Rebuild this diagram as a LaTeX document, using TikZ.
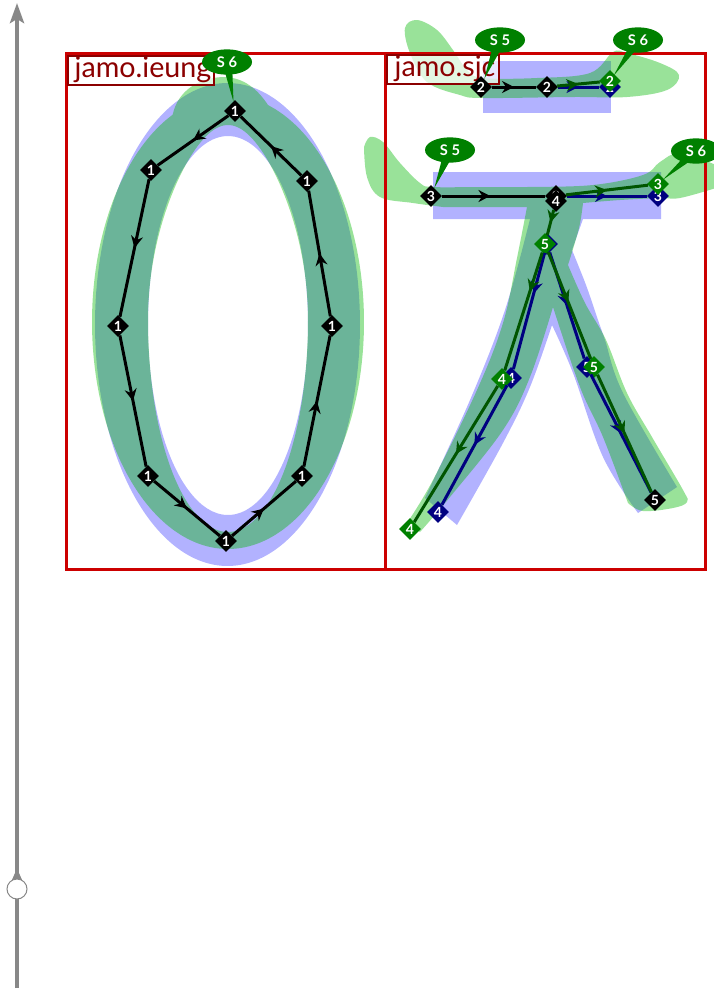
\documentclass[tikz,border=0pt]{standalone}
\usepackage{fontspec}
\setmainfont{Lato}
\usetikzlibrary{shapes.geometric,arrows.meta,decorations.markings,calc}
\definecolor{bluefillc}{RGB}{0,0,255}
\definecolor{greenfillc}{RGB}{0,182,0}
\definecolor{framered}{RGB}{204,0,0}
\definecolor{labelred}{RGB}{139,0,0}
\definecolor{nodegreen}{RGB}{0,128,0}
\definecolor{linegreen}{RGB}{0,85,0}
\definecolor{nodenavy}{RGB}{0,0,128}
\definecolor{slidergray}{RGB}{136,136,136}
\tikzset{
  x=0.75pt,y=-0.75pt,
  bluefill/.style={fill=bluefillc,fill opacity=0.3},
  greenfill/.style={fill=greenfillc,fill opacity=0.4},
  frame/.style={draw=framered,line width=2.25pt},
  labelbox/.style={draw=labelred,line width=1.5pt,fill=white,fill opacity=0.72,text opacity=1,text=labelred,
    font=\fontsize{21.5pt}{22pt}\selectfont,anchor=north west,inner sep=0pt,text height=16pt,text depth=5.5pt,align=left},
  pt/.style={diamond,minimum size=16.5pt,inner sep=0pt,text=white,font=\fontsize{10.5pt}{10.5pt}\selectfont\bfseries},
  ptblack/.style={pt,fill=black},
  ptnavy/.style={pt,fill=nodenavy},
  ptgreen/.style={pt,fill=nodegreen},
  seg/.style={line width=2.25pt,postaction={decorate},
    decoration={markings,mark=at position #1 with {\arrow{Stealth[length=9pt,width=9pt,inset=3pt]}}}},
  seg/.default=0.5,
  blackseg/.style={seg=#1,draw=black,color=black},
  blackseg/.default=0.5,
  navyseg/.style={seg=#1,draw=nodenavy,color=nodenavy},
  navyseg/.default=0.5,
  greenseg/.style={seg=#1,draw=linegreen,color=linegreen},
  greenseg/.default=0.5,
  callout/.style={ellipse,fill=nodegreen,text=white,minimum width=37.5pt,minimum height=19pt,inner sep=0pt,
    font=\fontsize{11pt}{11pt}\selectfont\bfseries},
  calloutfill/.style={fill=nodegreen},
  sliderline/.style={draw=slidergray,line width=3pt},
  sliderknob/.style={circle,draw=slidergray,fill=white,line width=0.75pt,minimum size=15pt,inner sep=0pt},
}
% #1 callout centre, #2 diamond, #3 half of the base of the tail, #4 tip's distance from the diamond's centre
\newcommand{\calloutTail}[4]{\fill[calloutfill] ($(#1)+(#3)$) -- ($(#2.center)!#4!(#1)$) -- ($(#1)-(#3)$) -- cycle;}
\begin{document}
\begin{tikzpicture}
\path[use as bounding box] (0,0) rectangle (714,990);

% ---- slider
\coordinate (sbot) at (17,988);
\coordinate (stop) at (17,3);
\draw[sliderline,-{Stealth[length=15pt,width=10.5pt,inset=3pt]}] (sbot) -- (stop);
\fill[slidergray] (15,873) -- (19,873) -- (23,882) -- (11,882) -- cycle;
\node[sliderknob] (knob) at (17,889) {};

% ---- ieung, blue
\fill[bluefill,even odd rule]
  plot[domain=0:360,samples=90,smooth] ({227.5+132.5*cos(\x)},{324.5+241.5*sin(\x)})
  plot[domain=0:360,samples=90,smooth] ({228+80*cos(\x)},{325.5+189.5*sin(\x)});
% ---- sjc, blue
\fill[bluefill] (483,61) rectangle (611,113);
\fill[bluefill] (433,172) -- (661,172) -- (661,219) -- (583,219) -- (572,250)
  -- plot[smooth,tension=0.6] coordinates {(572,250)(586,285)(598,320)(605,340)(623,393)(677,487)}
  -- (638,513)
  -- plot[smooth,tension=0.6] coordinates {(638,513)(603,457)(573,373)(552,325)}
  -- plot[smooth,tension=0.6] coordinates {(552,325)(530,387)(503,443)(457,525)}
  -- (425,498)
  -- plot[smooth,tension=0.6] coordinates {(425,498)(470,400)(505,310)(530,219)}
  -- (433,219) -- cycle;

% ---- ieung, green
\fill[greenfill,even odd rule]
  plot[domain=-72.9:246,samples=90,smooth] ({228+136*cos(\x)},{322+227*sin(\x)})
  .. controls (178,90) and (200,77) .. (225,77) .. controls (245,78) and (258,90) .. (268,105) -- cycle
  plot[domain=0:180,samples=45,smooth] ({228+80*cos(\x)},{320+212*sin(\x)})
  -- plot[domain=180:360,samples=45,smooth] ({228+80*cos(\x)*(1-0.2*sin(\x)*sin(\x))},{320+195*sin(\x)}) -- cycle;
% ---- sjc, green
\fill[greenfill] plot[smooth cycle,tension=0.6] coordinates {(405,28)(417,20)(437,30)(453,50)(467,70)(483,78)(537,78)(590,73)(613,52)(627,53)(660,63)(679,75)(667,90)(627,97)(573,97)(483,98)(460,95)(427,82)(410,53)};
\fill[greenfill]
  plot[smooth,tension=0.6] coordinates {(364,147)(370,137)(383,142)(400,163)(420,183)(433,187)(480,187)(527,187)(593,185)(643,175)(660,162)(680,153)(716,165)}
  -- (716,188)
  -- plot[smooth,tension=0.6] coordinates {(716,188)(680,198)(660,198)(620,200)(583,203)}
  -- plot[smooth,tension=0.6] coordinates {(583,203)(579,228)(568,265)}
  -- plot[smooth,tension=0.6] coordinates {(568,265)(585,303)(606,340)(627,393)(652,437)(683,490)(687,502)(673,508)(643,511)(628,503)}
  -- plot[smooth,tension=0.6] coordinates {(628,503)(603,437)(580,387)(553,307)}
  -- plot[smooth,tension=0.6] coordinates {(553,307)(530,377)(503,430)(450,497)(420,532)}
  -- (407,523)
  -- plot[smooth,tension=0.6] coordinates {(407,523)(433,480)(477,390)(503,323)(517,258)(527,207)}
  -- (443,207)
  -- plot[smooth,tension=0.6] coordinates {(443,207)(413,203)(380,197)(367,177)(364,147)}
  -- cycle;

% ---- frames and labels
\draw[frame] (66,53) rectangle (385,569);
\draw[frame] (385,53) rectangle (705,569);
\node[labelbox,minimum width=109.5pt] (lieung) at (67,55) {\hspace{3pt}jamo.ieung};
\node[labelbox,minimum width=84pt] (lsjc) at (386,54) {\hspace{3pt}jamo.sjc};

% ---- navy
\node[ptnavy] (b2) at (610,87) {2};
\node[ptnavy] (b3) at (658,196) {3};
\node[ptnavy] (b5a) at (547,244) {5};
\node[ptnavy] (b4a) at (511,378) {4};
\node[ptnavy] (b4b) at (438,512) {4};
\node[ptnavy] (b5b) at (587,367) {5};

% ---- green
\node[ptgreen] (g2) at (610,81) {2};
\node[ptgreen] (g3) at (658,184) {3};
\node[ptgreen] (g5a) at (545,244) {5};
\node[ptgreen] (g4a) at (502,379) {4};
\node[ptgreen] (g4b) at (410,529) {4};
\node[ptgreen] (g5b) at (594,367) {5};

% ---- black
\node[ptblack] (k2a) at (481,87) {2};
\node[ptblack] (k2b) at (547,87) {2};
\node[ptblack] (k3) at (431,196) {3};
\node[ptblack] (k3b) at (556,196) {3};
\node[ptblack] (k4) at (556,201) {4};
\node[ptblack] (k5) at (655,500) {5};

\node[ptblack] (i1) at (235,111) {1};
\node[ptblack] (i2) at (151,170) {1};
\node[ptblack] (i3) at (118,326) {1};
\node[ptblack] (i4) at (148,476) {1};
\node[ptblack] (i5) at (226,541) {1};
\node[ptblack] (i6) at (302,476) {1};
\node[ptblack] (i7) at (332,326) {1};
\node[ptblack] (i8) at (307,181) {1};

% ---- connectors
\draw[navyseg=0.5] (k2b) -- (b2);
\draw[navyseg=0.5] (k3b) -- (b3);
\draw[navyseg=0.35] (b5a) -- (b4a);
\draw[navyseg=0.5] (b4a) -- (b4b);
\draw[navyseg=0.5] (b5a) -- (b5b);
\draw[navyseg=0.5] (b5b) -- (k5);

\draw[greenseg=0.5] (k2b) -- (g2);
\draw[greenseg=0.5] (k3b) -- (g3);
\draw[greenseg=0.5] (k4) -- (g5a);
\draw[greenseg=0.33] (g5a) -- (g4a);
\draw[greenseg=0.5] (g4a) -- (g4b);
\draw[greenseg=0.47] (g5a) -- (g5b);
\draw[greenseg=0.5] (g5b) -- (k5);

\draw[blackseg=0.5] (k2a) -- (k2b);
\draw[blackseg=0.47] (k3) -- (k3b);
\draw[blackseg=0.5] (i5) -- (i6);
\draw[blackseg=0.5] (i6) -- (i7);
\draw[blackseg=0.5] (i7) -- (i8);
\draw[blackseg=0.5] (i8) -- (i1);
\draw[blackseg=0.5] (i1) -- (i2);
\draw[blackseg=0.5] (i2) -- (i3);
\draw[blackseg=0.5] (i3) -- (i4);
\draw[blackseg=0.5] (i4) -- (i5);

% ---- callouts: tails first, so that the texts stay on top
\coordinate (c1) at (227,62);
\coordinate (c2) at (500,40);
\coordinate (c3) at (638,40);
\coordinate (c4) at (450,150);
\coordinate (c5) at (696,151);
\calloutTail{c1}{i1}{5,0}{7pt}
\calloutTail{c2}{k2a}{5,2}{6.5pt}
\calloutTail{c3}{g2}{4,3}{5pt}
\calloutTail{c4}{k3}{5,2}{6.5pt}
\calloutTail{c5}{g3}{3,4}{5pt}
\node[callout] (s1) at (c1) {S 6};
\node[callout] (s2) at (c2) {S 5};
\node[callout] (s3) at (c3) {S 6};
\node[callout] (s4) at (c4) {S 5};
\node[callout] (s5) at (c5) {S 6};
\end{tikzpicture}
\end{document}
